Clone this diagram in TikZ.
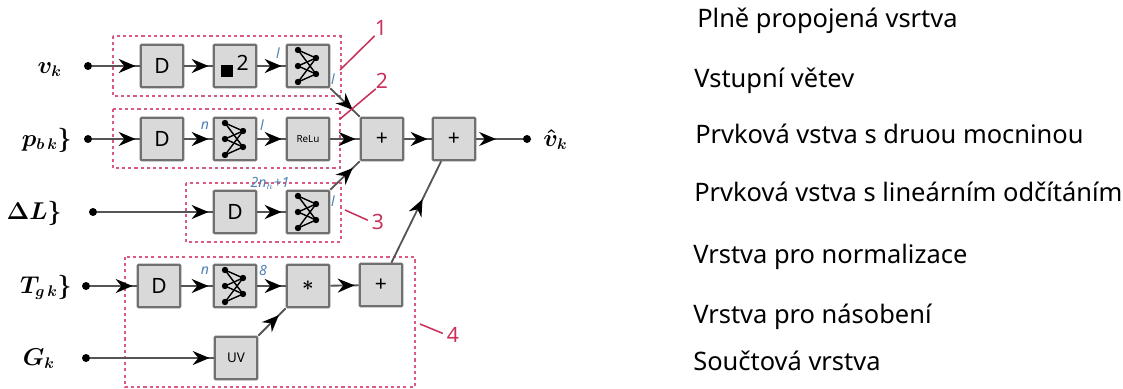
\documentclass[tikz,border=0pt]{standalone}
\usepackage{amsmath}
\usepackage{fontspec}
\setmainfont{Noto Sans}
\usepackage{tikz}
\usetikzlibrary{arrows.meta,decorations.markings}
\definecolor{boxgray}{HTML}{D9D9D9}
\definecolor{edgegray}{HTML}{707070}
\definecolor{wiregray}{HTML}{555555}
\definecolor{redmark}{HTML}{C9325A}
\definecolor{reddash}{HTML}{DB5A80}
\definecolor{bluetag}{HTML}{4F81B5}
\tikzset{
	block/.style={draw=edgegray,fill=boxgray,line width=1.5pt,rounded corners=0.5pt,minimum size=1.06cm,inner sep=0pt,font=\fontsize{15}{15}\selectfont},
	dotnode/.style={circle,fill=black,minimum size=0.2cm,inner sep=0pt},
	wire/.style={draw=wiregray,line width=1.3pt},
	tipat/.style={wire,decoration={markings,mark=at position #1 with {\arrow[black]{Stealth[length=12pt,width=10pt,inset=4pt]}}},postaction={decorate}},
	redbox/.style={draw=reddash,line width=1.7pt,dash pattern=on 2.2pt off 2.2pt},
	leader/.style={draw=redmark,line width=1.1pt},
	redtag/.style={text=redmark,inner sep=0pt,font=\fontsize{15}{15}\selectfont\bfseries},
	bluetag/.style={text=bluetag,inner sep=0pt,font=\fontsize{10}{10}\selectfont\rmfamily\itshape\bfseries},
	inlabel/.style={anchor=base east,inner sep=0pt,font=\fontsize{16}{16}\selectfont\boldmath},
	legend/.style={anchor=base west,inner sep=0pt,font=\fontsize{18.1}{18.1}\selectfont}
}
\begin{document}
\begin{tikzpicture}[x=0.025cm,y=-0.025cm]
	\useasboundingbox (0,0) rectangle (1123,388);
	\draw[redbox] (113,36) rectangle (341,96);
	\draw[redbox] (113,109) rectangle (340,168);
	\draw[redbox] (186,183) rectangle (341,242);
	\draw[redbox] (125,257) rectangle (415,387);
	% first row
	\node[dotnode] (in1) at (88,66) {};
	\node[block] (d1) at (162,66) {D};
	\node[block] (sq) at (235,66) {\rule{8.5pt}{8.5pt}\,\raisebox{5pt}{2}};
	\node[block] (nn1) at (308,66) {};
	% second row
	\node[dotnode] (in2) at (88,139) {};
	\node[block] (d2) at (162,139) {D};
	\node[block] (nn2) at (235,139) {};
	\node[block,font=\fontsize{7}{7}\selectfont\rmfamily\bfseries] (relu) at (308,139) {ReLu};
	\node[block] (add1) at (382,139) {+};
	\node[block] (add2) at (454,139) {+};
	\node[dotnode] (out) at (527,139) {};
	% third row
	\node[dotnode] (in3) at (93,212) {};
	\node[block] (d3) at (235,212) {D};
	\node[block] (nn3) at (308,212) {};
	% fourth and fifth row
	\node[dotnode] (in4) at (86,286) {};
	\node[block] (d4) at (159,286) {D};
	\node[block] (nn4) at (235,286) {};
	\node[block] (mul) at (308,286) {$\boldsymbol{\ast}$};
	\node[block] (sum) at (381,285) {+};
	\node[dotnode] (in5) at (86,358) {};
	\node[block,font=\fontsize{9.5}{9.5}\selectfont] (uv) at (236,358) {UV};
	% small network inside the blocks
	\foreach \net in {nn1,nn2,nn3,nn4}{
		\begin{scope}[shift={(\net.center)}]
			\foreach \ya in {-16,0,16}{
				\foreach \yb in {-8,8}{
					\draw[line width=1pt] (-10,\ya) -- (8,\yb);
				}
				\fill (-10,\ya) circle (0.08cm);
			}
			\fill (8,-8) circle (0.08cm);
			\fill (8,8) circle (0.08cm);
		\end{scope}
	}
	\draw[tipat=-3pt] (in1) -- (d1);
	\draw[tipat=-3pt] (d1) -- (sq);
	\draw[tipat=-3pt] (sq) -- (nn1);
	\draw[tipat=-3pt] (in2) -- (d2);
	\draw[tipat=-3pt] (d2) -- (nn2);
	\draw[tipat=-3pt] (nn2) -- (relu);
	\draw[tipat=-3pt] (relu) -- (add1);
	\draw[tipat=-3pt] (add1) -- (add2);
	\draw[tipat=-19pt] (add2) -- (out);
	\draw[tipat=-3pt] (in3) -- (d3);
	\draw[tipat=-3pt] (d3) -- (nn3);
	\draw[tipat=-3pt] (in4) -- (d4);
	\draw[tipat=-3pt] (d4) -- (nn4);
	\draw[tipat=-3pt] (nn4) -- (mul);
	\draw[tipat=-3pt] (mul) -- (sum);
	\draw[tipat=-3pt] (in5) -- (uv);
	\draw[tipat=-7pt] (nn1.south east) -- (add1.north west);
	\draw[tipat=-7pt] (nn3.north east) -- (add1.south west);
	\draw[tipat=-7pt] (uv.north east) -- (mul.south west);
	\draw[tipat=-30pt] (sum.65) -- (add2.240);
	% input and output names
	\node[inlabel] (lv) at (62,73) {$v_k$};
	\node[inlabel] (lp) at (72,146) {$p_{b\,k}\}$};
	\node[inlabel] (ll) at (62,219) {$\Delta L\}$};
	\node[inlabel] (lt) at (72,293) {$T_{g\,k}\}$};
	\node[inlabel] (lg) at (55,365) {$G_k$};
	\node[inlabel,anchor=base west] (lo) at (543,146) {$\hat{v}_k$};
	% sizes over the wires
	\node[bluetag] (t1) at (278,53) {l};
	\node[bluetag] (t2) at (333,79) {l};
	\node[bluetag] (t3) at (205,126) {n};
	\node[bluetag] (t4) at (262,125) {l};
	\node[bluetag] (t5) at (270,183) {2n$_h$+1};
	\node[bluetag] (t6) at (333,201) {l};
	\node[bluetag] (t7) at (205,271) {n};
	\node[bluetag] (t8) at (263,270) {8};
	% numbered marks
	\node[redtag] (one) at (381,28) {1};
	\node[redtag] (two) at (382,81) {2};
	\node[redtag] (three) at (378,222) {3};
	\node[redtag] (four) at (453,335) {4};
	\coordinate (mark1) at (340,70);
	\coordinate (mark2) at (340,119);
	\coordinate (mark3) at (345,210);
	\coordinate (mark4) at (420,324);
	\draw[leader] (mark1) -- (one.south west);
	\draw[leader] (mark2) -- (two.south west);
	\draw[leader,shorten >=3pt] (mark3) -- (three.west);
	\draw[leader,shorten >=3pt] (mark4) -- (four.west);
	% legend on the right
	\node[legend] (leg1) at (697,27) {Plně propojená vsrtva};
	\node[legend] (leg2) at (694,87) {Vstupní větev};
	\node[legend] (leg3) at (695,143) {Prvková vstva s druou mocninou};
	\node[legend] (leg4) at (694,201) {Prvková vstva s lineárním odčítáním};
	\node[legend] (leg5) at (693,263) {Vrstva pro normalizace};
	\node[legend] (leg6) at (693,323) {Vrstva pro násobení};
	\node[legend] (leg7) at (693,370) {Součtová vrstva};
\end{tikzpicture}
\end{document}
